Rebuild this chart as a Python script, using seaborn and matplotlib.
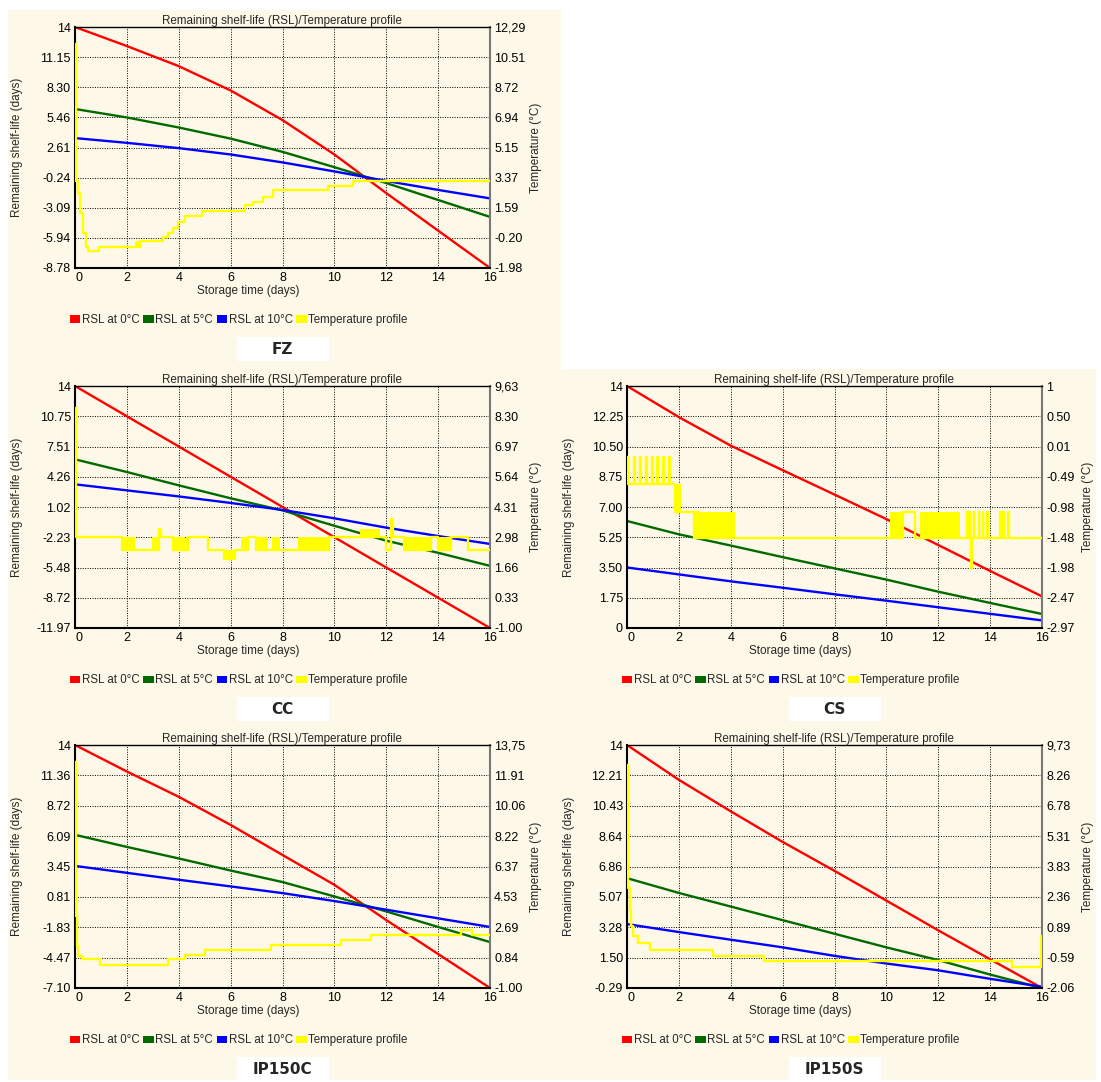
import numpy as np
import matplotlib
matplotlib.use("Agg")
import matplotlib.pyplot as plt
import seaborn as sns
from matplotlib.patches import Patch, Rectangle

W, H = 1101, 1082

# storage time grid used for the RSL curves (days)
days = [0, 2, 4, 6, 8, 10, 12, 14, 16]
x_ticks = [0, 2, 4, 6, 8, 10, 12, 14, 16]

# ---------------- FZ ----------------
fz_rsl0 = [14, 12.2, 10.3, 8.0, 5.2, 1.95, -1.7, -5.25, -8.78]
fz_rsl5 = [6.25, 5.45, 4.5, 3.45, 2.2, 0.75, -0.75, -2.35, -3.95]
fz_rsl10 = [3.5, 3.05, 2.55, 1.95, 1.2, 0.35, -0.55, -1.4, -2.2]
fz_temp_t = [0, 0.05, 0.12, 0.2, 0.31, 0.43, 0.52, 0.91, 2.5, 3.41, 3.6, 3.79, 3.99,
             4.24, 4.88, 6.55, 6.87, 7.25, 7.64, 9.76, 10.72, 16]
fz_temp = [11.3, 3.2, 2.47, 1.28, 0.1, -0.73, -1.0, -0.71, -0.41, -0.12, 0.08, 0.38, 0.77,
           1.07, 1.42, 1.76, 1.95, 2.25, 2.65, 2.88, 3.2, 3.2]
fz_blk_start, fz_blk_end = [2.3], [2.5]
fz_blk_lo, fz_blk_hi = [-0.71], [-0.41]
fz_rsl_labels = ["-8.78", "-5.94", "-3.09", "-0.24", "2.61", "5.46", "8.30", "11.15", "14"]
fz_temp_labels = ["-1.98", "-0.20", "1.59", "3.37", "5.15", "6.94", "8.72", "10.51", "12,29"]

# ---------------- CC ----------------
cc_rsl0 = [14, 10.75, 7.51, 4.26, 1.02, -2.23, -5.48, -8.72, -11.97]
cc_rsl5 = [6.13, 4.77, 3.34, 1.95, 0.65, -1.0, -2.6, -3.9, -5.3]
cc_rsl10 = [3.45, 2.8, 2.15, 1.45, 0.7, -0.2, -1.2, -2.1, -2.95]
cc_temp_t = [0, 0.04, 1.81, 3.25, 3.32, 3.77, 4.35, 5.12, 5.76, 6.17, 6.66, 6.98, 9.80,
             11.98, 12.20, 12.26, 12.70, 13.73, 13.99, 14.50, 15.14, 16]
cc_temp = [8.66, 2.98, 2.43, 3.35, 2.98, 2.43, 2.98, 2.43, 2.03, 2.43, 2.98, 2.43, 2.98,
           2.43, 3.79, 2.98, 2.43, 2.98, 2.43, 2.98, 2.43, 2.43]
cc_blk_start = [1.81, 2.96, 3.77, 4.28, 5.76, 6.40, 6.98, 7.60, 8.60, 11.00, 12.70, 13.99]
cc_blk_end = [2.32, 3.25, 4.24, 4.35, 6.17, 6.66, 7.43, 7.90, 9.80, 11.75, 13.73, 14.50]
cc_blk_lo = [2.43, 2.43, 2.43, 2.43, 2.03, 2.43, 2.43, 2.43, 2.43, 2.98, 2.43, 2.43]
cc_blk_hi = [2.98, 2.98, 2.98, 2.98, 2.43, 2.98, 2.98, 2.98, 2.98, 3.35, 2.98, 2.98]
cc_rsl_labels = ["-11.97", "-8.72", "-5.48", "-2.23", "1.02", "4.26", "7.51", "10.75", "14"]
cc_temp_labels = ["-1.00", "0.33", "1.66", "2.98", "4.31", "5.64", "6.97", "8.30", "9,63"]

# ---------------- CS ----------------
cs_rsl0 = [14, 12.2, 10.55, 9.13, 7.72, 6.3, 4.8, 3.3, 1.83]
cs_rsl5 = [6.19, 5.42, 4.77, 4.1, 3.45, 2.8, 2.1, 1.45, 0.81]
cs_rsl10 = [3.5, 3.1, 2.7, 2.33, 1.95, 1.58, 1.2, 0.82, 0.44]
cs_temp_t = [0, 0.04, 0.28, 0.32, 0.51, 0.55, 0.75, 0.79, 0.96, 1.00, 1.16, 1.20, 1.38, 1.42,
             1.61, 1.65, 1.86, 2.60, 2.63, 2.70, 2.73, 2.77, 10.64, 11.09, 13.11, 13.14,
             13.20, 13.23, 13.26, 13.29, 13.36, 13.39, 13.56, 13.59, 13.71, 13.74, 13.88,
             13.91, 14.39, 14.42, 14.50, 14.53, 14.68, 14.72, 16]
cs_temp = [-0.16, -0.61, -0.16, -0.61, -0.16, -0.61, -0.16, -0.61, -0.16, -0.61, -0.16, -0.61,
           -0.16, -0.61, -0.16, -0.61, -1.07, -1.50, -1.07, -1.50, -1.07, -1.50, -1.07, -1.50,
           -1.07, -1.50, -1.07, -1.50, -1.99, -1.50, -1.07, -1.50, -1.07, -1.50, -1.07, -1.50,
           -1.07, -1.50, -1.07, -1.50, -1.07, -1.50, -1.07, -1.50, -1.50]
cs_blk_start = [1.86, 2.77, 10.15, 11.28]
cs_blk_end = [2.08, 4.16, 10.64, 12.82]
cs_blk_lo = [-1.07, -1.50, -1.50, -1.50]
cs_blk_hi = [-0.61, -1.07, -1.07, -1.07]
cs_rsl_labels = ["0", "1.75", "3.50", "5.25", "7.00", "8.75", "10.50", "12.25", "14"]
cs_temp_labels = ["-2.97", "-2.47", "-1.98", "-1.48", "-0.98", "-0.49", "0.01", "0.50", "1"]

# ---------------- IP150C ----------------
ipc_rsl0 = [14, 11.7, 9.5, 7.06, 4.45, 1.86, -1.2, -4.15, -7.1]
ipc_rsl5 = [6.2, 5.15, 4.15, 3.1, 2.1, 0.85, -0.45, -1.8, -3.11]
ipc_rsl10 = [3.5, 2.9, 2.3, 1.72, 1.14, 0.45, -0.3, -1.05, -1.8]
ipc_temp_t = [0, 0.04, 0.06, 0.1, 0.27, 0.97, 3.6, 4.24, 5.0, 7.54, 10.27, 11.4, 14.9, 15.3, 16]
ipc_temp = [12.74, 3.35, 1.53, 0.92, 0.76, 0.42, 0.76, 1.02, 1.32, 1.63, 1.93, 2.24, 2.54, 2.24, 2.24]
ipc_rsl_labels = ["-7.10", "-4.47", "-1.83", "0.81", "3.45", "6.09", "8.72", "11.36", "14"]
ipc_temp_labels = ["-1.00", "0.84", "2.69", "4.53", "6.37", "8.22", "10.06", "11.91", "13,75"]

# ---------------- IP150S ----------------
ips_rsl0 = [14, 11.95, 10.1, 8.3, 6.6, 4.85, 3.1, 1.4, -0.29]
ips_rsl5 = [6.17, 5.3, 4.5, 3.7, 2.9, 2.1, 1.35, 0.5, -0.29]
ips_rsl10 = [3.47, 3.0, 2.55, 2.1, 1.6, 1.15, 0.75, 0.25, -0.22]
ips_temp_t = [0, 0.03, 0.1, 0.16, 0.25, 0.42, 0.9, 3.32, 5.27, 14.84, 15.95, 16]
ips_temp = [8.76, 2.78, 1.73, 0.93, 0.44, 0.12, -0.2, -0.49, -0.77, -1.05, 0.44, 0.44]
ips_rsl_labels = ["-0.29", "1.50", "3.28", "5.07", "6.86", "8.64", "10.43", "12.21", "14"]
ips_temp_labels = ["-2.06", "-0.59", "0.89", "2.36", "3.83", "5.31", "6.78", "8.26", "9,73"]

series_names = ["RSL at 0°C", "RSL at 5°C", "RSL at 10°C", "Temperature profile"]

sns.set_theme(style="white")
plt.rcParams["font.family"] = ["Liberation Sans", "DejaVu Sans"]

CREAM = "#FEF8E8"
RED, GREEN, BLUE, YELLOW = "#FF0000", "#006A00", "#0000FF", "#FFFF00"
colors = [RED, GREEN, BLUE, YELLOW]

fig = plt.figure(figsize=(W / 100, H / 100), dpi=100)
fig.patch.set_facecolor("white")


def fig_rect(x0, y0, x1, y1):
    return [x0 / W, 1 - y1 / H, (x1 - x0) / W, (y1 - y0) / H]


def draw_panel(name, box, bg, rsl_lim, rsl_labels, temp_lim, temp_labels,
               rsl0, rsl5, rsl10, temp_t, temp, blocks=None):
    r = fig_rect(*bg)
    fig.add_artist(Rectangle((r[0], r[1]), r[2], r[3], transform=fig.transFigure,
                             facecolor=CREAM, edgecolor="none", zorder=-5))
    ax = fig.add_axes(fig_rect(*box))
    ax.set_facecolor(CREAM)
    ax2 = ax.twinx()

    for vals, c in zip([rsl0, rsl5, rsl10], colors[:3]):
        sns.lineplot(x=days, y=vals, ax=ax, color=c, linewidth=1.7,
                     estimator=None, sort=False, legend=False)

    if blocks is not None:
        for s, e, lo, hi in zip(*blocks):
            ax2.fill_between([s, e], [lo, lo], [hi, hi], color=YELLOW, linewidth=0)
    sns.lineplot(x=temp_t, y=temp, ax=ax2, color=YELLOW, linewidth=1.7,
                 drawstyle="steps-post", estimator=None, sort=False, legend=False)

    ax.set_xlim(0, 16)
    ax.set_ylim(*rsl_lim)
    ax2.set_ylim(*temp_lim)
    ax.set_xticks(x_ticks)
    ax.set_xticklabels([str(v) for v in x_ticks])
    ax.set_yticks(np.linspace(rsl_lim[0], rsl_lim[1], 9))
    ax.set_yticklabels(rsl_labels)
    ax2.set_yticks(np.linspace(temp_lim[0], temp_lim[1], 9))
    ax2.set_yticklabels(temp_labels)
    ax.get_xticklabels()[0].set_horizontalalignment("left")

    ax.tick_params(axis="both", length=0, labelsize=9, pad=3, colors="black")
    ax2.tick_params(axis="y", length=0, labelsize=9, pad=3, colors="black")

    ax.grid(True, color="black", linestyle=(0, (1, 1.5)), linewidth=0.7)
    ax.set_axisbelow(True)
    ax2.grid(False)

    for side in ["left", "bottom", "top"]:
        ax.spines[side].set_color("black")
    ax.spines["left"].set_linewidth(1.5)
    ax.spines["bottom"].set_linewidth(1.5)
    ax.spines["top"].set_linewidth(1.0)
    ax.spines["right"].set_color("#777777")
    ax.spines["right"].set_linewidth(1.5)
    for s in ax2.spines.values():
        s.set_visible(False)

    ax.set_title("Remaining shelf-life (RSL)/Temperature profile", fontsize=8.4, pad=2)
    ax.set_xlabel("Storage time (days)", fontsize=8.5, labelpad=0)
    ax.xaxis.set_label_coords(0.417, -0.069)
    ax.xaxis.label.set_va("top")
    ax.set_ylabel("Remaining shelf-life (days)", fontsize=8.5)
    ax2.set_ylabel("Temperature (°C)", fontsize=8.5)
    ax.yaxis.set_label_coords(-0.125, 0.5)
    ax2.yaxis.set_label_coords(1.097, 0.5)

    handles = [Patch(facecolor=c, edgecolor="none") for c in colors]
    ax.legend(handles, series_names, loc="center left", bbox_to_anchor=(-0.012, -0.216),
              ncol=4, frameon=False, fontsize=8.3, handlelength=0.9, handleheight=0.6,
              handletextpad=0.15, columnspacing=0.3, borderaxespad=0, borderpad=0)

    # white name box under the legend
    bx0, by0, bx1, by1 = box
    cx = (bx0 + bx1) / 2
    cy = by1 + 81
    r = fig_rect(cx - 46, cy - 12, cx + 46, cy + 12)
    fig.add_artist(Rectangle((r[0], r[1]), r[2], r[3], transform=fig.transFigure,
                             facecolor="white", edgecolor="none", zorder=1))
    fig.text(cx / W, 1 - cy / H, name, ha="center", va="center", fontsize=11,
             fontweight="bold", family="DejaVu Sans", zorder=2)


draw_panel("FZ", (75, 27, 490, 268), (8, 10, 561, 369), (-8.78, 14), fz_rsl_labels,
           (-1.98, 12.29), fz_temp_labels, fz_rsl0, fz_rsl5, fz_rsl10, fz_temp_t, fz_temp,
           (fz_blk_start, fz_blk_end, fz_blk_lo, fz_blk_hi))
draw_panel("CC", (75, 386, 490, 628), (8, 369, 561, 728), (-11.97, 14), cc_rsl_labels,
           (-1.00, 9.63), cc_temp_labels, cc_rsl0, cc_rsl5, cc_rsl10, cc_temp_t, cc_temp,
           (cc_blk_start, cc_blk_end, cc_blk_lo, cc_blk_hi))
draw_panel("CS", (627, 386, 1042, 628), (561, 369, 1096, 728), (0, 14), cs_rsl_labels,
           (-2.97, 1.0), cs_temp_labels, cs_rsl0, cs_rsl5, cs_rsl10, cs_temp_t, cs_temp,
           (cs_blk_start, cs_blk_end, cs_blk_lo, cs_blk_hi))
draw_panel("IP150C", (75, 745, 490, 988), (8, 728, 561, 1080), (-7.10, 14), ipc_rsl_labels,
           (-1.00, 13.75), ipc_temp_labels, ipc_rsl0, ipc_rsl5, ipc_rsl10, ipc_temp_t, ipc_temp)
draw_panel("IP150S", (627, 745, 1042, 988), (561, 728, 1096, 1080), (-0.29, 14), ips_rsl_labels,
           (-2.06, 9.73), ips_temp_labels, ips_rsl0, ips_rsl5, ips_rsl10, ips_temp_t, ips_temp)

fig.savefig("out.png", dpi=100, facecolor="white")
